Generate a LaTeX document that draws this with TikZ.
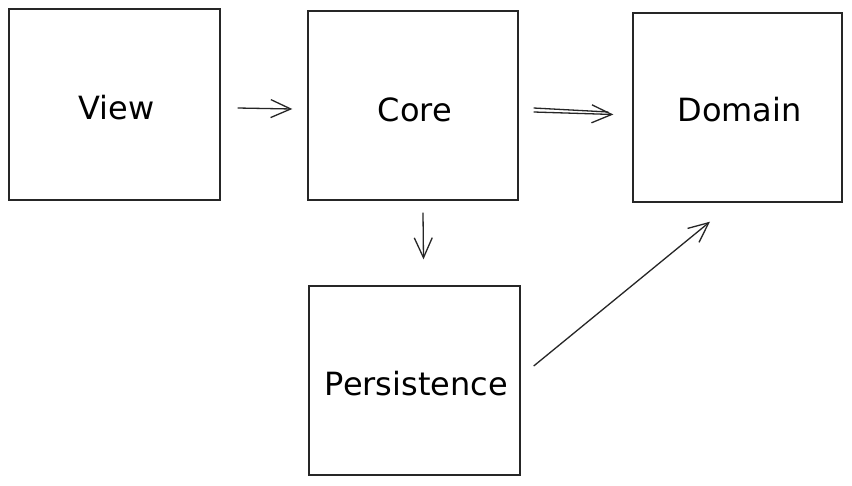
\documentclass[tikz,border=0pt]{standalone}
\usepackage{fontspec}
\setmainfont{DejaVu Sans}
\usetikzlibrary{arrows.meta}
\tikzset{
  box/.style={draw=black!85, line width=1.4pt, fill=white, inner sep=0pt,
    font=\fontsize{32}{34}\selectfont},
  arr/.style={line width=1.3pt, draw=black!85,
    -{Straight Barb[length=20pt,width=18pt,line width=1.3pt]}},
}
\begin{document}
\begin{tikzpicture}[x=1pt,y=-1pt]
\useasboundingbox[fill=white] (0,0) rectangle (852,485);
\node[box, minimum width=211pt, minimum height=191pt, text depth=0pt] (view) at (114.5,104.5) {};
\node[box, minimum width=210pt, minimum height=189pt] (core) at (413,105.5) {};
\node[box, minimum width=209pt, minimum height=189pt] (domain) at (737.5,107.5) {};
\node[box, minimum width=211pt, minimum height=189pt] (pers) at (414.5,380.5) {};
\node[font=\fontsize{32}{34}\selectfont, inner sep=0pt] (viewt) at ([xshift=2pt,yshift=-3pt]view.center) {View};
\node[font=\fontsize{32}{34}\selectfont, inner sep=0pt] (coret) at ([xshift=2pt,yshift=-4pt]core.center) {Core};
\node[font=\fontsize{32}{34}\selectfont, inner sep=0pt] (domaint) at ([xshift=2pt,yshift=-2pt]domain.center) {Domain};
\node[font=\fontsize{32}{34}\selectfont, inner sep=0pt] (perst) at ([xshift=2pt,yshift=-3pt]pers.center) {Persistence};
\draw[arr] ([xshift=17pt,yshift=-3.5pt]view.east) -- ([xshift=-15pt,yshift=-3.5pt]core.west);
\draw[arr] ([xshift=15pt,yshift=-6.5pt]core.east) -- ([xshift=-19pt,yshift=-7pt]domain.west);
\draw[line width=1.3pt, draw=black!85] ([xshift=15pt,yshift=-2.5pt]core.east) -- ([xshift=-24pt,yshift=-4.5pt]domain.west);
\draw[arr] ([xshift=10pt,yshift=-12pt]core.south) -- ([xshift=9pt,yshift=26pt]pers.north);
\draw[arr] ([xshift=13pt,yshift=14.5pt]pers.east) -- ([xshift=-27.5pt,yshift=-19pt]domain.south);
\end{tikzpicture}
\end{document}
